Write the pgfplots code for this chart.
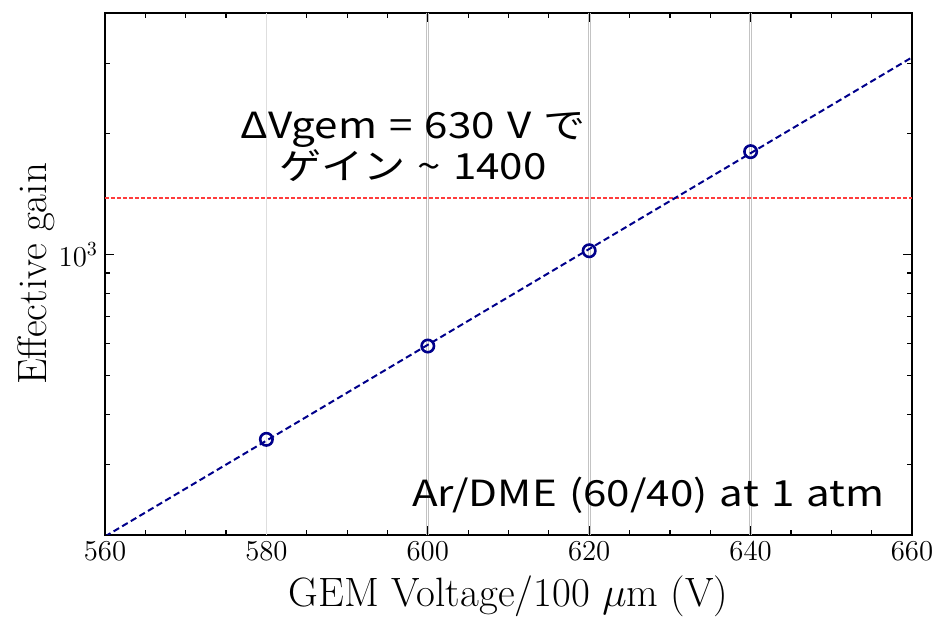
\documentclass[border=0pt]{standalone}
\usepackage{pgfplots}
\pgfplotsset{compat=1.18}
\usepackage{fontspec}
\newfontfamily\cjk[FakeStretch=1.17, WordSpace=1.3]{Noto Sans CJK JP}
\definecolor{navyb}{RGB}{0,0,139}
\definecolor{redl}{RGB}{255,60,60}
\definecolor{gridg}{RGB}{195,195,195}
\definecolor{gridl}{RGB}{222,222,222}
\begin{document}
\begin{tikzpicture}
\begin{axis}[
  name=ax,
  scale only axis, width=403.5pt, height=261pt,
  xmin=560, xmax=660, ymode=log, ymin=200, ymax=4000,
  xtick={560,580,...,660}, minor x tick num=3,
  ytick={1000}, yticklabels={$10^3$},
  minor ytick={300,400,500,600,700,800,900,2000,3000},
  tick align=inside,
  major tick length=4.5pt, minor tick length=2.5pt,
  axis line style={line width=1pt},
  every tick/.style={black, line width=0.6pt},
  xlabel={GEM Voltage/100 $\mu$m (V)},
  ylabel={Effective gain},
  label style={font=\fontsize{20.5}{24}\selectfont},
  xlabel style={at={(axis description cs:0.5,-0.137)}, anchor=base},
  ylabel style={at={(axis description cs:-0.0731,0.5)}, anchor=base},
  tick label style={font=\fontsize{13.75}{16}\selectfont},
  clip=true,
]
% vertical reference lines
\addplot[gridl, line width=0.7pt] coordinates {(580,200) (580,4000)};
\addplot[gridg, line width=0.45pt] coordinates {(599.86,200) (599.86,4000)};
\addplot[gridg, line width=0.45pt] coordinates {(600.14,200) (600.14,4000)};
\addplot[gridg, line width=0.45pt] coordinates {(619.86,200) (619.86,4000)};
\addplot[gridg, line width=0.45pt] coordinates {(620.14,200) (620.14,4000)};
\addplot[gridg, line width=0.45pt] coordinates {(639.86,200) (639.86,4000)};
\addplot[gridg, line width=0.45pt] coordinates {(640.14,200) (640.14,4000)};
% target gain line
\addplot[redl, line width=0.75pt, dash pattern=on 2pt off 1pt] coordinates {(560,1385) (660,1385)};
% fit
\addplot[navyb, line width=1pt, dash pattern=on 3.2pt off 1.8pt] coordinates {(560,198.3) (660,3101)};
% data
\addplot[navyb, only marks, mark=o, mark size=3.1pt, mark options={line width=1.3pt, fill=none, solid}] coordinates {
  (580,346.3) (600,591.6) (620,1022) (640,1805)};
\node[align=center, font=\cjk\fontsize{18}{19}\selectfont] at (rel axis cs:0.382,0.743)
  {ΔVgem = 630 V で\\ゲイン \textasciitilde{} 1400};
\node[anchor=east, font=\cjk\fontsize{18}{19}\selectfont] at (rel axis cs:0.975,0.077)
  {Ar/DME (60/40) at 1 atm};
\end{axis}
\pgfresetboundingbox
\path ([xshift=-52.5pt,yshift=-41pt]ax.south west) rectangle ([xshift=12pt,yshift=6.5pt]ax.north east);
\end{tikzpicture}
\end{document}
